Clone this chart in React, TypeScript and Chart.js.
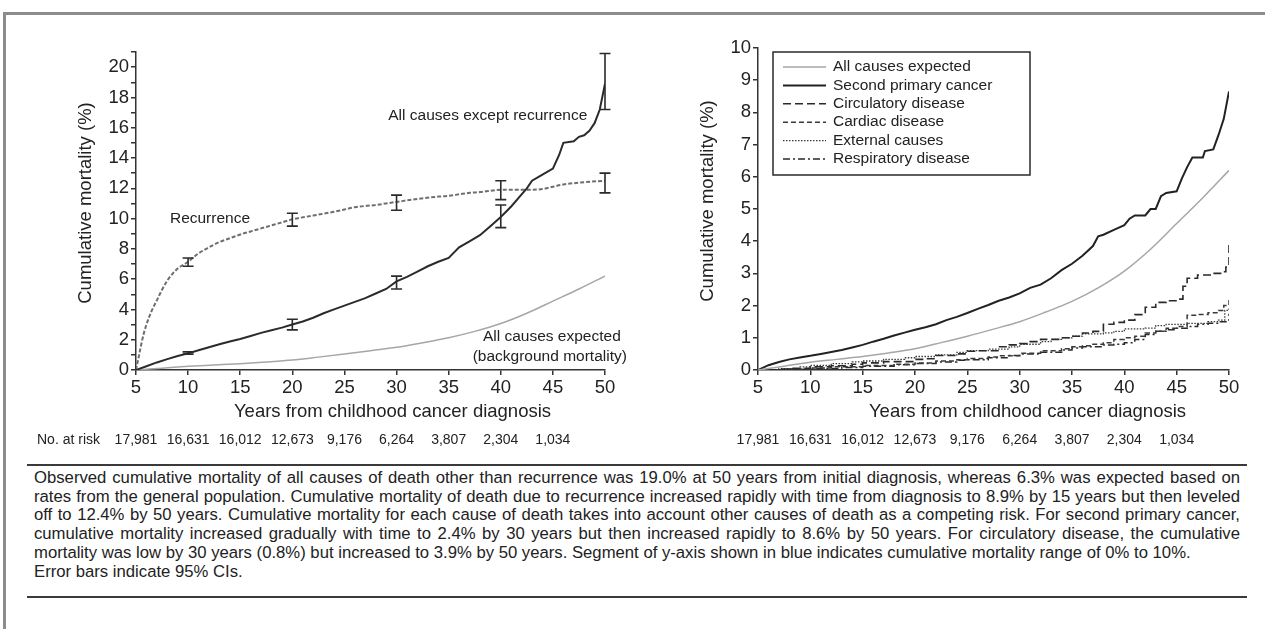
import React, { useEffect, useRef } from 'react';
import { Chart, registerables } from 'chart.js';

Chart.register(...registerables);

const FONT = '"Liberation Sans", Arial, Helvetica, sans-serif';

// ---------- Left panel data ----------
const exceptRecurrenceYears = [5, 6, 7, 8, 9, 10, 11, 12, 13, 14, 15, 16, 17, 18, 19, 20, 21, 22, 23, 24, 25, 26, 27, 28, 29, 30, 31, 32, 33, 34, 35, 36, 37, 38, 39, 40, 41, 42, 42.5, 43, 44, 45, 45.6, 46, 47, 47.5, 48, 48.5, 49, 49.5, 50];
const exceptRecurrenceValues = [0, 0.25, 0.5, 0.72, 0.92, 1.1, 1.3, 1.5, 1.7, 1.88, 2.05, 2.25, 2.45, 2.62, 2.8, 3.0, 3.2, 3.45, 3.75, 4.0, 4.25, 4.5, 4.75, 5.05, 5.35, 5.85, 6.15, 6.5, 6.85, 7.15, 7.4, 8.1, 8.5, 8.9, 9.5, 10.1, 10.8, 11.6, 12.0, 12.5, 12.9, 13.3, 14.2, 15.0, 15.1, 15.4, 15.5, 15.8, 16.3, 17.2, 18.9];

const recurrenceYears = [5, 5.3, 5.6, 6, 6.5, 7, 7.5, 8, 8.5, 9, 10, 11, 12, 13, 14, 15, 16, 17, 18, 19, 20, 22, 24, 25, 26, 28, 30, 32, 34, 35, 36, 37, 38, 40, 42, 44, 45, 46, 48, 50];
const recurrenceValues = [0, 1.0, 2.0, 3.0, 3.9, 4.6, 5.3, 5.9, 6.35, 6.7, 7.15, 7.7, 8.1, 8.45, 8.7, 8.95, 9.15, 9.35, 9.55, 9.75, 9.95, 10.2, 10.45, 10.6, 10.75, 10.9, 11.1, 11.3, 11.45, 11.5, 11.6, 11.7, 11.75, 11.9, 11.9, 11.95, 12.1, 12.25, 12.4, 12.5];

const expectedYears = [5, 7.5, 10, 12.5, 15, 17.5, 20, 22.5, 25, 27.5, 30, 32.5, 35, 37.5, 40, 42.5, 45, 47.5, 50];
const expectedValues = [0, 0.12, 0.24, 0.33, 0.42, 0.53, 0.66, 0.85, 1.05, 1.27, 1.5, 1.8, 2.13, 2.55, 3.07, 3.75, 4.55, 5.35, 6.2];

const ciYears = [10, 20, 30, 40, 50];
const exceptRecurrenceLow = [1.05, 2.65, 5.35, 9.4, 17.2];
const exceptRecurrenceHigh = [1.2, 3.35, 6.2, 10.9, 20.9];
const recurrenceLow = [6.85, 9.5, 10.55, 11.25, 11.7];
const recurrenceHigh = [7.4, 10.35, 11.55, 12.5, 13.0];

const annotationTexts = ['All causes except recurrence', 'Recurrence', 'All causes expected', '(background mortality)'];
const annotationYears = [38.75, 12.1, 44.9, 44.7];
const annotationValues = [16.8, 9.97, 2.18, 0.86];

const atRiskYears = [5, 10, 15, 20, 25, 30, 35, 40, 45];
const atRiskLabels = ['17,981', '16,631', '16,012', '12,673', '9,176', '6,264', '3,807', '2,304', '1,034'];

// ---------- Right panel data ----------
const secondCancerYears = [5, 6, 7, 8, 9, 10, 11, 12, 13, 14, 15, 16, 17, 18, 19, 20, 21, 22, 23, 24, 25, 26, 27, 28, 29, 30, 31, 32, 33, 34, 35, 36, 37, 37.5, 38, 39, 40, 40.5, 41, 42, 42.5, 43, 43.5, 44, 45, 45.5, 46, 46.5, 47.5, 47.7, 48.5, 49, 49.5, 50];
const secondCancerValues = [0, 0.15, 0.25, 0.33, 0.39, 0.44, 0.5, 0.56, 0.62, 0.7, 0.78, 0.88, 0.97, 1.07, 1.16, 1.25, 1.33, 1.42, 1.55, 1.65, 1.77, 1.9, 2.02, 2.15, 2.25, 2.38, 2.55, 2.65, 2.85, 3.1, 3.3, 3.55, 3.85, 4.15, 4.2, 4.35, 4.5, 4.7, 4.8, 4.8, 5.0, 5.0, 5.4, 5.5, 5.55, 5.95, 6.3, 6.6, 6.6, 6.8, 6.85, 7.3, 7.8, 8.65];

const circulatoryYears = [5, 7, 8, 10, 12, 14, 15, 17, 20, 21, 22, 24, 25, 26, 28, 29, 30, 31, 32, 34, 35, 36, 37, 38, 39, 40, 41, 42, 43, 44, 45.3, 45.6, 46, 47, 48.5, 49.3, 49.7, 50];
const circulatoryValues = [0, 0.03, 0.05, 0.1, 0.13, 0.18, 0.22, 0.26, 0.33, 0.35, 0.45, 0.5, 0.58, 0.6, 0.72, 0.78, 0.82, 0.88, 0.95, 1.0, 1.05, 1.15, 1.2, 1.42, 1.48, 1.55, 1.72, 1.95, 2.1, 2.15, 2.2, 2.6, 2.85, 2.95, 3.0, 3.05, 3.2, 3.9];

const cardiacYears = [5, 8, 10, 12, 15, 18, 20, 22, 24, 25, 27, 28, 30, 32, 34, 35, 36, 37, 38, 39, 40, 41, 42, 43, 44, 45, 46, 47, 48, 49, 49.5, 50];
const cardiacValues = [0, 0.03, 0.06, 0.1, 0.14, 0.18, 0.22, 0.28, 0.32, 0.36, 0.4, 0.44, 0.52, 0.6, 0.66, 0.72, 0.75, 0.8, 0.85, 0.95, 1.0, 1.05, 1.15, 1.2, 1.3, 1.35, 1.7, 1.72, 1.78, 1.85, 2.0, 2.25];

const externalYears = [5, 7, 9, 10, 12, 14, 15, 17, 19, 20, 22, 24, 25, 27, 29, 30, 32, 33, 34, 35, 36, 38, 39, 40, 42, 43, 44, 46, 48, 49, 49.6, 50];
const externalValues = [0, 0.04, 0.1, 0.14, 0.2, 0.25, 0.28, 0.33, 0.38, 0.42, 0.47, 0.55, 0.6, 0.65, 0.72, 0.8, 0.88, 0.95, 1.0, 1.05, 1.12, 1.15, 1.2, 1.28, 1.3, 1.38, 1.42, 1.45, 1.5, 1.55, 1.85, 1.95];

const respiratoryYears = [5, 8, 10, 13, 15, 18, 20, 22, 24, 25, 27, 29, 30, 32, 34, 35, 36, 38, 39, 40, 41, 42, 43, 44, 45, 46, 47, 48, 49, 50];
const respiratoryValues = [0, 0.02, 0.05, 0.08, 0.12, 0.16, 0.2, 0.25, 0.3, 0.32, 0.38, 0.45, 0.5, 0.55, 0.62, 0.68, 0.72, 0.78, 0.8, 0.85, 0.95, 1.1, 1.2, 1.25, 1.3, 1.35, 1.42, 1.45, 1.5, 1.75];

const captionLines = [
  'Observed cumulative mortality of all causes of death other than recurrence was 19.0% at 50 years from initial diagnosis, whereas 6.3% was expected based on',
  'rates from the general population. Cumulative mortality of death due to recurrence increased rapidly with time from diagnosis to 8.9% by 15 years but then leveled',
  'off to 12.4% by 50 years. Cumulative mortality for each cause of death takes into account other causes of death as a competing risk. For second primary cancer,',
  'cumulative mortality increased gradually with time to 2.4% by 30 years but then increased rapidly to 8.6% by 50 years. For circulatory disease, the cumulative',
  'mortality was low by 30 years (0.8%) but increased to 3.9% by 50 years. Segment of y-axis shown in blue indicates cumulative mortality range of 0% to 10%.',
  'Error bars indicate 95% CIs.',
];

const pts = (xs: number[], ys: number[]) => xs.map((x, i) => ({ x, y: ys[i] }));

const AXIS = '#333';
const TEXT = '#222';

function xAxis() {
  return {
    type: 'linear' as const,
    min: 5,
    max: 50,
    ticks: { stepSize: 5, autoSkip: false, maxRotation: 0, font: { family: FONT, size: 18.5 }, color: TEXT, padding: 2 },
    grid: { drawOnChartArea: false, drawTicks: true, tickLength: 5, color: AXIS, lineWidth: 1.5 },
    border: { display: true, color: AXIS, width: 1.5 },
    afterFit: (s: any) => { s.height = 90; },
  };
}

function yAxis(max: number, width: number, everyOther: boolean) {
  return {
    type: 'linear' as const,
    min: 0,
    max,
    ticks: {
      stepSize: 1,
      autoSkip: false,
      font: { family: FONT, size: 18.5 },
      color: TEXT,
      padding: 2,
      callback: (v: any) => (everyOther && Number(v) % 2 !== 0 ? '' : String(v)),
    },
    grid: { drawOnChartArea: false, drawTicks: true, tickLength: 5, color: AXIS, lineWidth: 1.5 },
    border: { display: true, color: AXIS, width: 1.5 },
    afterFit: (s: any) => { s.width = width; },
  };
}

function drawCommon(chart: any, xTitleShift: number, showAtRiskLabel: boolean) {
  const { ctx, chartArea, scales } = chart;
  const xs = scales.x;
  ctx.save();
  ctx.fillStyle = TEXT;
  ctx.save();
  ctx.translate(chartArea.left - 50, (chartArea.top + chartArea.bottom) / 2 - 8);
  ctx.rotate(-Math.PI / 2);
  ctx.font = `18.5px ${FONT}`;
  ctx.textAlign = 'center';
  ctx.textBaseline = 'middle';
  ctx.fillText('Cumulative mortality (%)', 0, 0);
  ctx.restore();
  ctx.font = `18.5px ${FONT}`;
  ctx.textAlign = 'center';
  ctx.textBaseline = 'middle';
  ctx.fillText('Years from childhood cancer diagnosis', (chartArea.left + chartArea.right) / 2 + xTitleShift, chartArea.bottom + 42);
  ctx.font = `14px ${FONT}`;
  const rowY = chartArea.bottom + 70;
  if (showAtRiskLabel) {
    ctx.textAlign = 'left';
    ctx.fillText('No. at risk', 37, rowY);
  }
  ctx.textAlign = 'center';
  atRiskYears.forEach((yr, i) => {
    ctx.fillText(atRiskLabels[i], xs.getPixelForValue(yr), rowY);
  });
  ctx.restore();
}

const leftDecor = {
  id: 'leftDecor',
  afterDraw(chart: any) {
    const { ctx, scales } = chart;
    const xs = scales.x;
    const ys = scales.y;
    ctx.save();
    ctx.strokeStyle = '#2a2a2a';
    ctx.lineWidth = 1.6;
    ctx.setLineDash([]);
    const bars = (lo: number[], hi: number[]) => {
      ciYears.forEach((yr, i) => {
        const x = xs.getPixelForValue(yr);
        const y1 = ys.getPixelForValue(lo[i]);
        const y2 = ys.getPixelForValue(hi[i]);
        ctx.beginPath();
        ctx.moveTo(x, y1); ctx.lineTo(x, y2);
        ctx.moveTo(x - 5.5, y1); ctx.lineTo(x + 5.5, y1);
        ctx.moveTo(x - 5.5, y2); ctx.lineTo(x + 5.5, y2);
        ctx.stroke();
      });
    };
    bars(exceptRecurrenceLow, exceptRecurrenceHigh);
    bars(recurrenceLow, recurrenceHigh);
    ctx.fillStyle = TEXT;
    ctx.font = `15.5px ${FONT}`;
    ctx.textAlign = 'center';
    ctx.textBaseline = 'middle';
    annotationTexts.forEach((t, i) => {
      ctx.fillText(t, xs.getPixelForValue(annotationYears[i]), ys.getPixelForValue(annotationValues[i]));
    });
    ctx.restore();
    drawCommon(chart, 22, true);
  },
};

const rightDecor = {
  id: 'rightDecor',
  afterDraw(chart: any) {
    const { ctx, chartArea } = chart;
    drawCommon(chart, 34, false);
    const bx = chartArea.left + 15;
    const by = chartArea.top + 4;
    const bw = 257;
    const bh = 123;
    ctx.save();
    ctx.strokeStyle = '#2a2a2a';
    ctx.lineWidth = 1.5;
    ctx.setLineDash([]);
    ctx.strokeRect(bx, by, bw, bh);
    ctx.font = `15.5px ${FONT}`;
    ctx.textAlign = 'left';
    ctx.textBaseline = 'middle';
    chart.data.datasets.forEach((ds: any, i: number) => {
      const y = by + 15 + i * 18.4;
      ctx.strokeStyle = ds.borderColor;
      ctx.lineWidth = ds.borderWidth;
      ctx.setLineDash(ds.borderDash || []);
      ctx.beginPath();
      ctx.moveTo(bx + 10, y);
      ctx.lineTo(bx + 53, y);
      ctx.stroke();
      ctx.fillStyle = TEXT;
      ctx.fillText(ds.label, bx + 60, y);
    });
    ctx.restore();
  },
};

function leftConfig(): any {
  return {
    type: 'line',
    data: {
      datasets: [
        { label: 'All causes except recurrence', data: pts(exceptRecurrenceYears, exceptRecurrenceValues), borderColor: '#2b2b2b', borderWidth: 2, pointRadius: 0, tension: 0 },
        { label: 'Recurrence', data: pts(recurrenceYears, recurrenceValues), borderColor: '#6e6e6e', borderWidth: 2, borderDash: [4, 2], pointRadius: 0, cubicInterpolationMode: 'monotone' },
        { label: 'All causes expected', data: pts(expectedYears, expectedValues), borderColor: '#a6a6a6', borderWidth: 1.5, pointRadius: 0, cubicInterpolationMode: 'monotone' },
      ],
    },
    options: {
      responsive: false,
      animation: false,
      devicePixelRatio: 1,
      layout: { padding: { left: 0, top: 52, right: 35, bottom: 0 } },
      plugins: { legend: { display: false }, tooltip: { enabled: false } },
      scales: { x: xAxis(), y: yAxis(21, 136, true) },
    },
    plugins: [leftDecor],
  };
}

function rightConfig(): any {
  const common = { pointRadius: 0, fill: false };
  return {
    type: 'line',
    data: {
      datasets: [
        { ...common, label: 'All causes expected', data: pts(expectedYears, expectedValues), borderColor: '#a6a6a6', borderWidth: 1.5, cubicInterpolationMode: 'monotone' },
        { ...common, label: 'Second primary cancer', data: pts(secondCancerYears, secondCancerValues), borderColor: '#222', borderWidth: 2, tension: 0 },
        { ...common, label: 'Circulatory disease', data: pts(circulatoryYears, circulatoryValues), borderColor: '#2a2a2a', borderWidth: 1.6, borderDash: [8, 4], stepped: true },
        { ...common, label: 'Cardiac disease', data: pts(cardiacYears, cardiacValues), borderColor: '#3a3a3a', borderWidth: 1.5, borderDash: [5, 3], stepped: true },
        { ...common, label: 'External causes', data: pts(externalYears, externalValues), borderColor: '#3a3a3a', borderWidth: 1.3, borderDash: [1.5, 1.5], stepped: true },
        { ...common, label: 'Respiratory disease', data: pts(respiratoryYears, respiratoryValues), borderColor: '#2a2a2a', borderWidth: 1.5, borderDash: [7, 3, 2, 3], stepped: true },
      ],
    },
    options: {
      responsive: false,
      animation: false,
      devicePixelRatio: 1,
      layout: { padding: { left: 0, top: 48, right: 36, bottom: 0 } },
      plugins: { legend: { display: false }, tooltip: { enabled: false } },
      scales: { x: xAxis(), y: yAxis(10, 118, false) },
    },
    plugins: [rightDecor],
  };
}

export default function App() {
  const leftRef = useRef<HTMLCanvasElement>(null);
  const rightRef = useRef<HTMLCanvasElement>(null);

  useEffect(() => {
    const c1 = new Chart(leftRef.current as HTMLCanvasElement, leftConfig());
    const c2 = new Chart(rightRef.current as HTMLCanvasElement, rightConfig());
    return () => {
      c1.destroy();
      c2.destroy();
    };
  }, []);

  const lineStyle = (i: number): React.CSSProperties => ({
    position: 'absolute',
    left: 34,
    top: 469 + i * 18.7,
    width: 1206,
    height: 18.7,
    lineHeight: '18.7px',
    fontSize: 16.7,
    whiteSpace: 'nowrap',
    textAlign: i < 4 ? 'justify' : 'left',
    textAlignLast: i < 4 ? 'justify' : 'left',
    color: TEXT,
  } as React.CSSProperties);

  return (
    <div style={{ position: 'absolute', left: 0, top: 0, width: 1265, height: 629, overflow: 'hidden', background: '#fff', fontFamily: FONT }}>
      <div style={{ position: 'absolute', left: 3, top: 12, width: 1262, height: 617, borderTop: '3px solid #8c8c8c', borderLeft: '3px solid #8c8c8c', boxSizing: 'border-box' }} />
      <canvas ref={leftRef} width={640} height={460} style={{ position: 'absolute', left: 0, top: 0 }} />
      <canvas ref={rightRef} width={625} height={460} style={{ position: 'absolute', left: 640, top: 0 }} />
      <div style={{ position: 'absolute', left: 27, top: 464, width: 1220, height: 0, borderTop: '2px solid #3a3a3a' }} />
      {captionLines.map((t, i) => (
        <div key={i} style={lineStyle(i)}>{t}</div>
      ))}
      <div style={{ position: 'absolute', left: 27, top: 596, width: 1220, height: 0, borderTop: '2px solid #3a3a3a' }} />
    </div>
  );
}
